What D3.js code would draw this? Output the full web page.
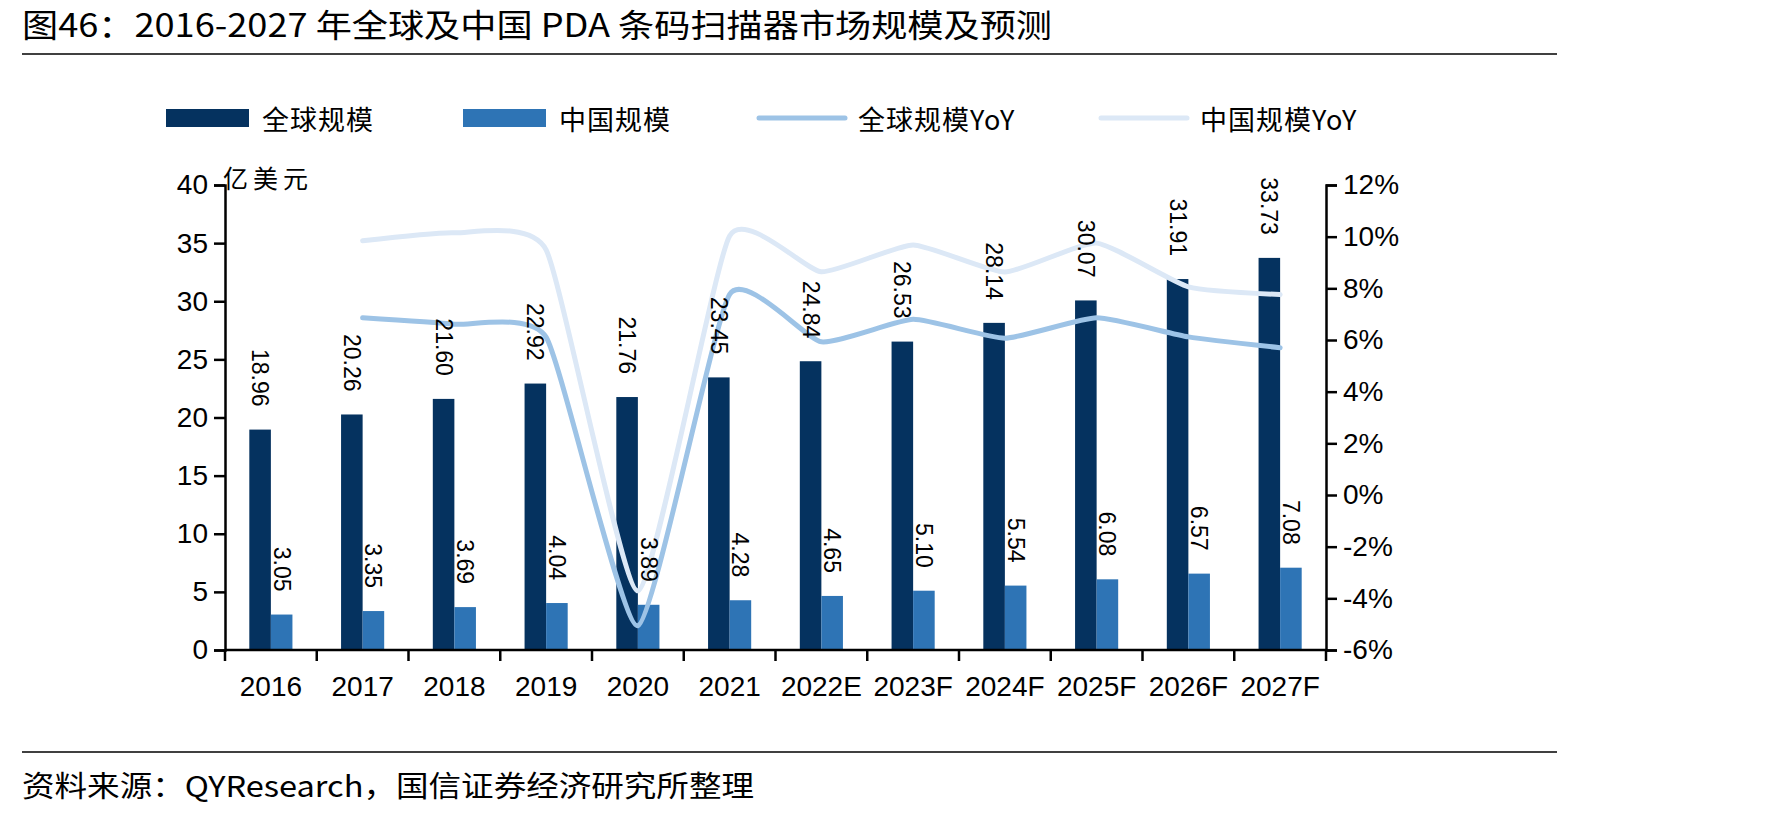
<!DOCTYPE html>
<html>
<head>
<meta charset="utf-8">
<script src="https://cdn.jsdelivr.net/npm/d3@7"></script>
<style>
  html, body { margin: 0; padding: 0; background: #fff; }
  svg { display: block; }
</style>
</head>
<body>
<div id="chart"></div>
<script>
// categories and series
const years = ['2016', '2017', '2018', '2019', '2020', '2021', '2022E', '2023F', '2024F', '2025F', '2026F', '2027F'];
const globalSize = [18.96, 20.26, 21.60, 22.92, 21.76, 23.45, 24.84, 26.53, 28.14, 30.07, 31.91, 33.73];
const chinaSize = [3.05, 3.35, 3.69, 4.04, 3.89, 4.28, 4.65, 5.10, 5.54, 6.08, 6.57, 7.08];
// YoY (%) starts at 2017
const globalYoY = [null, 6.86, 6.61, 6.11, -5.06, 7.77, 5.93, 6.80, 6.07, 6.86, 6.12, 5.70];
const chinaYoY = [null, 9.84, 10.15, 9.49, -3.71, 10.03, 8.64, 9.68, 8.63, 9.75, 8.06, 7.76];
const leftTicks = [0, 5, 10, 15, 20, 25, 30, 35, 40];
const rightTicks = [-6, -4, -2, 0, 2, 4, 6, 8, 10, 12];

const titleText = '图46：2016-2027 年全球及中国 PDA 条码扫描器市场规模及预测';
const sourceText = '资料来源：QYResearch，国信证券经济研究所整理';
const unitText = '亿美元';
const legendItems = [
  { label: '全球规模', type: 'bar', color: '#05325f' },
  { label: '中国规模', type: 'bar', color: '#2e74b5' },
  { label: '全球规模YoY', type: 'line', color: '#9dc3e6' },
  { label: '中国规模YoY', type: 'line', color: '#dce8f6' },
];

const width = 1771;
const height = 819;
const margin = { top: 185, right: 445, bottom: 169, left: 225 };
const cjk = "'Noto Sans CJK SC', 'Noto Sans', sans-serif";
const arial = "'Liberation Sans', Arial, sans-serif";

const svg = d3
  .create('svg')
  .attr('viewBox', [0, 0, width, height])
  .attr('width', width)
  .attr('height', height);

// title + rules
svg
  .append('text')
  .attr('x', 22)
  .attr('y', 37)
  .attr('font-family', cjk)
  .attr('font-size', 32)
  .attr('textLength', 1030)
  .attr('lengthAdjust', 'spacingAndGlyphs')
  .attr('fill', '#000')
  .text(titleText);

svg
  .selectAll('line.rule')
  .data([54, 752])
  .join('line')
  .attr('class', 'rule')
  .attr('x1', 22)
  .attr('x2', 1557)
  .attr('y1', (d) => d)
  .attr('y2', (d) => d)
  .attr('stroke', '#000')
  .attr('stroke-width', 1.5);

svg
  .append('text')
  .attr('x', 22)
  .attr('y', 797)
  .attr('font-family', cjk)
  .attr('font-size', 29)
  .attr('textLength', 732)
  .attr('lengthAdjust', 'spacingAndGlyphs')
  .attr('fill', '#000')
  .text(sourceText);

// scales
const x = d3
  .scaleBand()
  .domain(years)
  .range([margin.left, width - margin.right]);
const bw = x.bandwidth();
const xSub = d3
  .scaleBand()
  .domain(['global', 'china'])
  .range([bw * 0.265, bw * 0.735]);

const yL = d3
  .scaleLinear()
  .domain([0, 40])
  .range([height - margin.bottom, margin.top]);
const yR = d3
  .scaleLinear()
  .domain([-6, 12])
  .range([height - margin.bottom, margin.top]);

const rows = years.map((y, i) => ({
  year: y,
  global: globalSize[i],
  china: chinaSize[i],
  gYoY: globalYoY[i],
  cYoY: chinaYoY[i],
}));

// bars
const barColor = { global: legendItems[0].color, china: legendItems[1].color };
const barData = rows.flatMap((r) => [
  { year: r.year, key: 'global', value: r.global },
  { year: r.year, key: 'china', value: r.china },
]);

svg
  .append('g')
  .selectAll('rect')
  .data(barData)
  .join('rect')
  .attr('x', (d) => x(d.year) + xSub(d.key))
  .attr('y', (d) => yL(d.value))
  .attr('width', xSub.bandwidth())
  .attr('height', (d) => yL(0) - yL(d.value))
  .attr('fill', (d) => barColor[d.key]);

// smooth YoY lines (Excel-like smoothing)
const line = (key) =>
  d3
    .line()
    .x((d) => x(d.year) + bw / 2)
    .y((d) => yR(d[key]))
    .curve(d3.curveCardinal.tension(0.5));

svg
  .append('path')
  .datum(rows.filter((d) => d.cYoY !== null))
  .attr('d', line('cYoY'))
  .attr('fill', 'none')
  .attr('stroke', legendItems[3].color)
  .attr('stroke-width', 5)
  .attr('stroke-linecap', 'round');

svg
  .append('path')
  .datum(rows.filter((d) => d.gYoY !== null))
  .attr('d', line('gYoY'))
  .attr('fill', 'none')
  .attr('stroke', legendItems[2].color)
  .attr('stroke-width', 5)
  .attr('stroke-linecap', 'round');

// axes
const axisL = svg
  .append('g')
  .attr('transform', `translate(${margin.left},0)`)
  .call(d3.axisLeft(yL).tickValues(leftTicks).tickSize(11).tickPadding(6));
const axisR = svg
  .append('g')
  .attr('transform', `translate(${width - margin.right},0)`)
  .call(
    d3
      .axisRight(yR)
      .tickValues(rightTicks)
      .tickSize(11)
      .tickPadding(6)
      .tickFormat((d) => d + '%'),
  );
const axisB = svg
  .append('g')
  .attr('transform', `translate(0,${yL(0)})`)
  .call(d3.axisBottom(x).tickSize(0).tickPadding(26));

[axisL, axisR, axisB].forEach((g) => {
  g.select('.domain').attr('stroke', '#000').attr('stroke-width', 2.5);
  g.selectAll('.tick line').attr('stroke', '#000').attr('stroke-width', 2.5);
  g.selectAll('.tick text')
    .attr('font-family', arial)
    .attr('font-size', 28)
    .attr('fill', '#000');
});
axisB.select('.domain').attr('d', `M${margin.left},0H${width - margin.right}`);
axisB.selectAll('.tick text').attr('dy', '0.71em');

// category boundary ticks on the bottom axis
axisB
  .selectAll('line.bound')
  .data(years.concat(['end']))
  .join('line')
  .attr('class', 'bound')
  .attr('x1', (d) => (d === 'end' ? x.range()[1] : x(d)))
  .attr('x2', (d) => (d === 'end' ? x.range()[1] : x(d)))
  .attr('y1', 0)
  .attr('y2', 11)
  .attr('stroke', '#000')
  .attr('stroke-width', 2.5);

// unit label
svg
  .append('text')
  .attr('x', margin.left - 2)
  .attr('y', margin.top + 3)
  .attr('font-family', cjk)
  .attr('font-size', 25)
  .attr('letter-spacing', 5)
  .attr('fill', '#000')
  .text(unitText);

// rotated data labels
svg
  .append('g')
  .selectAll('text')
  .data(barData)
  .join('text')
  .attr('transform', (d) => {
    const cx = x(d.year) + xSub(d.key) + xSub.bandwidth() / 2;
    const cy = yL(d.value) - 23;
    return `translate(${cx},${cy}) rotate(90)`;
  })
  .attr('text-anchor', 'end')
  .attr('dominant-baseline', 'central')
  .attr('font-family', arial)
  .attr('font-size', 23)
  .attr('fill', '#000')
  .text((d) => d.value.toFixed(2));

// legend
const legendX = [166, 463, 759, 1101];
const legend = svg
  .append('g')
  .selectAll('g')
  .data(legendItems)
  .join('g')
  .attr('transform', (d, i) => `translate(${legendX[i]},118)`);

legend
  .filter((d) => d.type === 'bar')
  .append('rect')
  .attr('x', 0)
  .attr('y', -9)
  .attr('width', 83)
  .attr('height', 18)
  .attr('fill', (d) => d.color);

legend
  .filter((d) => d.type === 'line')
  .append('line')
  .attr('x1', 0)
  .attr('x2', 86)
  .attr('y1', 0)
  .attr('y2', 0)
  .attr('stroke', (d) => d.color)
  .attr('stroke-width', 5)
  .attr('stroke-linecap', 'round');

legend
  .append('text')
  .attr('x', (d) => (d.type === 'bar' ? 96 : 99))
  .attr('y', 0)
  .attr('dominant-baseline', 'central')
  .attr('font-family', cjk)
  .attr('font-size', 27)
  .attr('letter-spacing', 1)
  .attr('fill', '#000')
  .text((d) => d.label);

document.getElementById('chart').appendChild(svg.node());
</script>
</body>
</html>
